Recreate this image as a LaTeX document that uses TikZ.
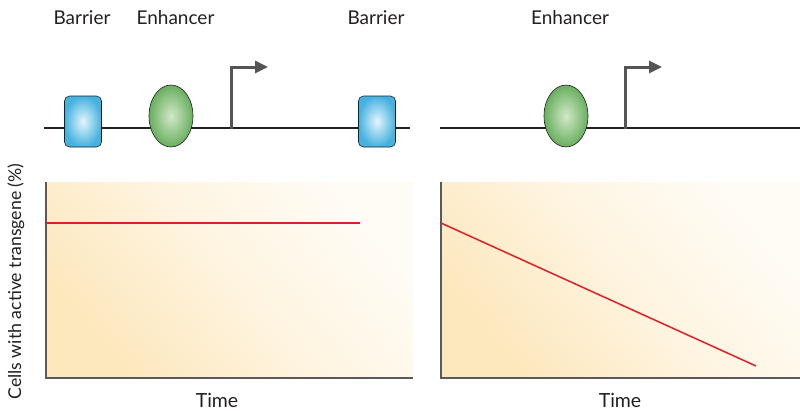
\documentclass[tikz,border=0pt]{standalone}
\usepackage{fontspec}
\setmainfont{Lato}
\usetikzlibrary{shapes.geometric,arrows.meta}
\definecolor{dna}{RGB}{35,31,32}
\definecolor{prom}{RGB}{85,85,85}
\definecolor{barin}{RGB}{228,245,252}
\definecolor{barout}{RGB}{70,178,224}
\definecolor{enhin}{RGB}{210,232,200}
\definecolor{enhout}{RGB}{105,175,95}
\definecolor{bgwarm}{RGB}{253,231,188}
\definecolor{bgpale}{RGB}{255,252,246}
\definecolor{curve}{RGB}{225,30,40}
\definecolor{axisc}{RGB}{90,90,90}
\tikzset{
  barrierbox/.style={draw=dna, line width=0.6pt, rounded corners=5pt, minimum width=37pt, minimum height=51pt, inner color=barin, outer color=barout},
  enhancerell/.style={ellipse, draw=dna, line width=0.6pt, minimum width=44pt, minimum height=62pt, inner color=enhin, outer color=enhout},
  dnaline/.style={draw=dna, line width=2.2pt},
  promline/.style={draw=prom, line width=3pt, -{Triangle[length=13pt,width=12pt]}},
  toplabel/.style={font=\fontsize{19}{22}\selectfont, text=dna},
  axislabel/.style={font=\fontsize{19.5}{22}\selectfont, text=dna},
  ylabel/.style={font=\fontsize{17.7}{20}\selectfont, text=dna, rotate=90},
  axisline/.style={draw=axisc, line width=1.3pt},
  curveline/.style={draw=curve, line width=1.5pt},
  bgshade/.style={bottom color=bgwarm, top color=bgpale, middle color=bgwarm!40!bgpale, shading angle=-50}
}
\begin{document}
\begin{tikzpicture}[x=1pt,y=-1pt]
\useasboundingbox (0,0) rectangle (800,410);
% ---------- top left ----------
\coordinate (dL1) at (44,128);
\coordinate (dL2) at (410,128);
\draw[dnaline] (dL1) -- (dL2);
\coordinate (pL0) at (231,129);
\coordinate (pL1) at (231,67);
\coordinate (pL2) at (268,67);
\draw[promline] (pL0) -- (pL1) -- (pL2);
\node[barrierbox] (b1) at (83,121.5) {};
\node[enhancerell] (e1) at (171,116) {};
\node[barrierbox] (b2) at (377,121.5) {};
\node[toplabel] (lb1) at (82,18) {Barrier};
\node[toplabel] (le1) at (175.5,18) {Enhancer};
\node[toplabel] (lb2) at (376,18) {Barrier};
% ---------- top right ----------
\coordinate (dR1) at (440,128);
\coordinate (dR2) at (800,128);
\draw[dnaline] (dR1) -- (dR2);
\coordinate (pR0) at (625,129);
\coordinate (pR1) at (625,67);
\coordinate (pR2) at (662,67);
\draw[promline] (pR0) -- (pR1) -- (pR2);
\node[enhancerell] (e2) at (566,116) {};
\node[toplabel] (le2) at (570,18) {Enhancer};
% ---------- plot left ----------
\shade[bgshade] (46,182) rectangle (413,378);
\coordinate (aL0) at (46,182);
\coordinate (aL1) at (46,378);
\coordinate (aL2) at (413,378);
\draw[axisline] (aL0) -- (aL1) -- (aL2);
\coordinate (cL1) at (46,223);
\coordinate (cL2) at (360,223);
\draw[curveline] (cL1) -- (cL2);
\node[axislabel] (tL) at (217,400) {Time};
\node[ylabel] (yl) at (16,281.5) {Cells with active transgene (\%)};
% ---------- plot right ----------
\shade[bgshade] (441,182) rectangle (800,378);
\coordinate (aR0) at (441,182);
\coordinate (aR1) at (441,378);
\coordinate (aR2) at (800,378);
\draw[axisline] (aR0) -- (aR1) -- (aR2);
\coordinate (cR1) at (441,223);
\coordinate (cR2) at (756,366);
\draw[curveline] (cR1) -- (cR2);
\node[axislabel] (tR) at (620,400) {Time};
\end{tikzpicture}
\end{document}
